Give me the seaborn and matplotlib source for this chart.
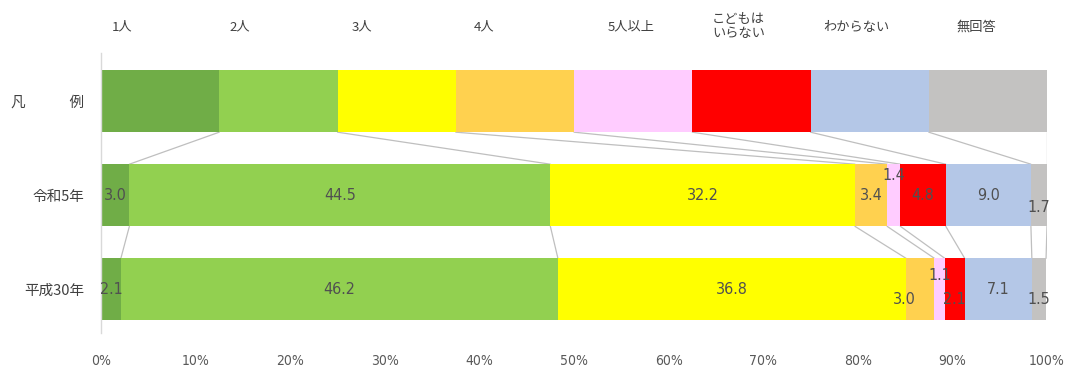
import numpy as np
import pandas as pd
import matplotlib
matplotlib.use('Agg')
import matplotlib.pyplot as plt
from matplotlib.ticker import FuncFormatter
import seaborn as sns

# data
categories = ['1人', '2人', '3人', '4人', '5人以上', 'こどもは\nいらない', 'わからない', '無回答']
rows = ['凡　　　例', '令和5年', '平成30年']
legend_vals = [12.5, 12.5, 12.5, 12.5, 12.5, 12.5, 12.5, 12.5]
r5_vals = [3.0, 44.5, 32.2, 3.4, 1.4, 4.8, 9.0, 1.7]
h30_vals = [2.1, 46.2, 36.8, 3.0, 1.1, 2.1, 7.1, 1.5]
colors = ['#70AD47', '#92D050', '#FFFF00', '#FFD14F', '#FFCCFF', '#FF0000', '#B4C7E7', '#C3C2C1']

# layout of header labels (x in percent) and shifted value labels
header_x = [2.2, 14.7, 27.6, 40.5, 56.0, 67.4, 79.9, 92.5]
label_shift = {(1, 4): (0, -0.21), (1, 7): (0, 0.13),
               (2, 3): (-1.7, 0.11), (2, 4): (0, -0.15),
               (2, 5): (0, 0.11), (2, 7): (0, 0.11)}

all_vals = [legend_vals, r5_vals, h30_vals]
recs = []
for r, vals in zip(rows, all_vals):
    cum = np.cumsum(vals)
    for c, v, cv in zip(categories, vals, cum):
        recs.append({'row': r, 'cat': c, 'value': v, 'cum': cv, 'start': cv - v})
df = pd.DataFrame(recs)

sns.set_theme(style='white')
plt.rcParams['font.family'] = ['Noto Sans CJK JP', 'DejaVu Sans']

fig = plt.figure(figsize=(10.66, 3.74), dpi=100)
ax = fig.add_axes([101/1066, 1 - 333/374, 946/1066, 280/374])

bar_h = 0.66
# stacked bars: draw cumulative totals from the last category backwards
for i in reversed(range(len(categories))):
    sub = df[df['cat'] == categories[i]]
    sns.barplot(data=sub, x='cum', y='row', order=rows, color=colors[i],
                saturation=1, width=bar_h, orient='h', errorbar=None, ax=ax,
                linewidth=0, zorder=2)

# connector lines between rows
for r in range(2):
    c_top = np.cumsum(all_vals[r])
    c_bot = np.cumsum(all_vals[r + 1])
    for k in range(len(categories)):
        ax.plot([c_top[k], c_bot[k]], [r + bar_h/2, r + 1 - bar_h/2],
                color='#BFBFBF', lw=0.9, zorder=1)

# value labels
for ri in (1, 2):
    sub = df[df['row'] == rows[ri]].reset_index(drop=True)
    for k, rec in sub.iterrows():
        dx, dy = label_shift.get((ri, k), (0, 0))
        ax.text(rec['start'] + rec['value']/2 + dx, ri + dy, f"{rec['value']:.1f}",
                ha='center', va='center', fontsize=11.5, color='#505050',
                family='DejaVu Sans', fontstretch='condensed', zorder=3)

# header labels
trans = matplotlib.transforms.blended_transform_factory(ax.transData, fig.transFigure)
for x, c in zip(header_x, categories):
    ax.text(x, 1 - 27/374, c, transform=trans, ha='center', va='center',
            fontsize=9.5, color='#404040', linespacing=1.1)

ax.set_xlim(0, 100)
ax.set_ylim(2.463, -0.511)
ax.set_xticks(range(0, 101, 10))
ax.xaxis.set_major_formatter(FuncFormatter(lambda v, p: f'{int(v)}%'))
ax.set_xlabel('')
ax.set_ylabel('')
ax.tick_params(axis='x', length=0, pad=15, labelsize=10, labelcolor='#595959')
ax.tick_params(axis='y', length=0, pad=12, labelsize=10.5, labelcolor='#404040')
for lab in ax.get_xticklabels():
    lab.set_family('DejaVu Sans')
    lab.set_fontstretch('condensed')
for s in ['top', 'right', 'bottom']:
    ax.spines[s].set_visible(False)
ax.spines['left'].set_color('#D9D9D9')
ax.spines['left'].set_linewidth(1)
ax.grid(False)

fig.savefig('out.png', dpi=100)
